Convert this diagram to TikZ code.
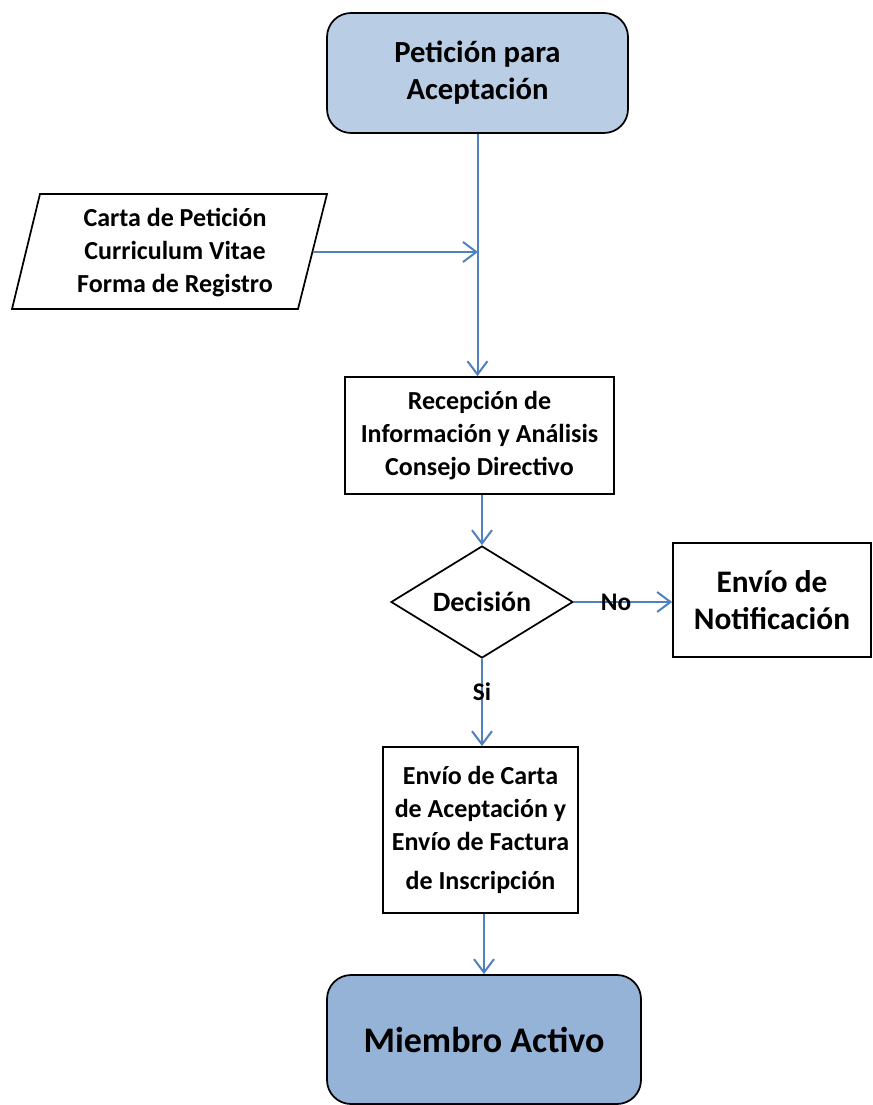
\documentclass[tikz,border=0pt]{standalone}
\usepackage{fontspec}
\setmainfont{Carlito}
\usetikzlibrary{arrows.meta, shapes.geometric, positioning}
\definecolor{azul}{HTML}{4F81BD}
\definecolor{celeste}{HTML}{B9CDE5}
\definecolor{celesteosc}{HTML}{95B3D7}
\tikzset{x=0.75pt, y=-0.75pt}

\begin{document}
\begin{tikzpicture}
\tikzset{
  caja/.style={draw=black, line width=1.3pt, inner sep=0pt, align=center,
    font=\bfseries\fontsize{19.5}{24.75}\selectfont},
  extremo/.style={caja, rounded corners=18pt},
  flujo/.style={draw=azul, line width=1.5pt, -{Straight Barb[length=10pt,width=15pt,line width=1.5pt]}},
  etiqueta/.style={font=\bfseries\fontsize{19}{20}\selectfont, inner sep=1pt}
}
\useasboundingbox (0,0) rectangle (872,1105);

% cajas
\node[extremo, fill=celeste, minimum width=225.75pt, minimum height=90pt,
  font=\bfseries\fontsize{23}{27.75}\selectfont] (peticion) at (477.5,73)
  {Petición para\\Aceptación};

\draw[line width=1.3pt] (40,194) -- (327,194) -- (298,309) -- (12,309) -- cycle;
\node[align=center, font=\bfseries\fontsize{19.5}{24.75}\selectfont] (entrada) at (175,253)
  {Carta de Petición\\Curriculum Vitae\\Forma de Registro};
\coordinate (entradaR) at (312.5,252);
\coordinate (junta) at (478,252);

\node[caja, minimum width=201.75pt, minimum height=87.75pt] (recepcion) at (479.5,435.5)
  {Recepción de\\Información y Análisis\\Consejo Directivo};

\node[caja, diamond, aspect=1.6, minimum width=136.5pt, minimum height=84pt,
  font=\bfseries\fontsize{21}{24}\selectfont] (decision) at (482,602) {Decisión};

\node[caja, minimum width=148.5pt, minimum height=85.5pt,
  font=\bfseries\fontsize{23.5}{27.75}\selectfont] (notificacion) at (772,600)
  {Envío de\\Notificación};

\node[caja, minimum width=146.25pt, minimum height=124.5pt] (carta) at (480.5,830)
  {Envío de Carta\\de Aceptación y\\Envío de Factura\\[5pt]de Inscripción};

\node[extremo, fill=celesteosc, minimum width=235.5pt, minimum height=96.75pt,
  font=\bfseries\fontsize{27}{30}\selectfont] (miembro) at (484,1039.5) {Miembro Activo};

% flechas
\draw[flujo] (peticion.south) -- (peticion.south |- recepcion.north);
\draw[flujo] (entradaR) -- (junta);
\draw[flujo] (decision.north |- recepcion.south) -- (decision.north);
\draw[flujo] (decision.east) -- node[etiqueta, pos=0.43] (no) {No} (decision.east -| notificacion.west);
\draw[flujo] (decision.south) -- node[etiqueta, pos=0.375] (si) {Si} (decision.south |- carta.north);
\draw[flujo] (miembro.north |- carta.south) -- (miembro.north);
\end{tikzpicture}
\end{document}
